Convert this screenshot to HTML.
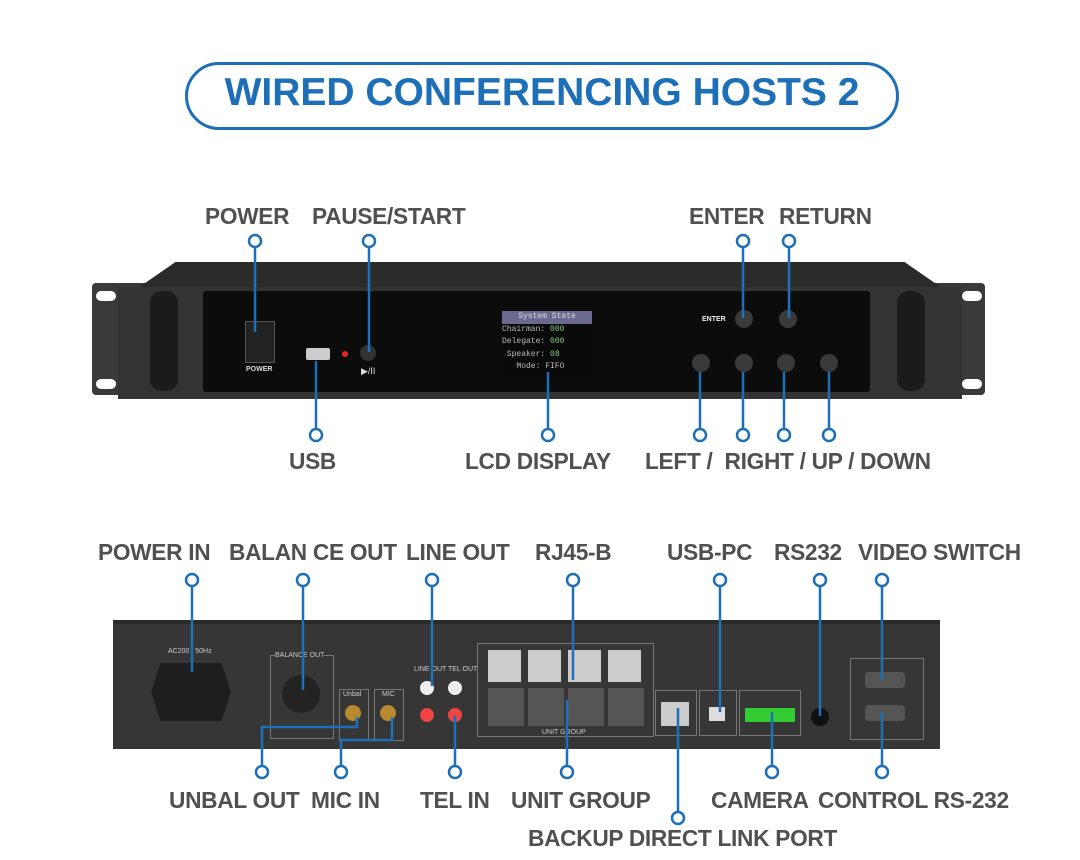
<!DOCTYPE html>
<html><head><meta charset="utf-8"><style>
body{margin:0;width:1080px;height:860px;background:#fff;position:relative;overflow:hidden;font-family:"Liberation Sans",sans-serif}
.a{position:absolute}
.lbl{position:absolute;font-size:22.7px;color:#505050;font-weight:bold;white-space:nowrap;letter-spacing:-0.3px}
.t{position:absolute;font-size:7px;color:#ccc;white-space:nowrap}
</style></head><body>
<div class="a" style="left:185px;top:62px;width:708px;height:62px;border:3px solid #1d6fb8;border-radius:34px"></div>
<div class="a" style="left:185px;top:71px;width:714px;text-align:center;font-size:39px;font-weight:900;color:#1d6fb8;letter-spacing:0px">WIRED CONFERENCING HOSTS 2</div>

<!-- front unit -->
<div class="a" style="left:92px;top:283px;width:893px;height:112px;background:#3a3a3a;border-radius:4px"></div>
<div class="a" style="left:135px;top:262px;width:810px;height:28px;background:#2b2b2b;clip-path:polygon(5% 0,95% 0,100% 100%,0 100%)"></div>
<div class="a" style="left:118px;top:287px;width:844px;height:112px;background:#333"></div>
<div class="a" style="left:203px;top:291px;width:667px;height:101px;background:#0c0c0c;border-radius:3px"></div>
<div class="a" style="left:150px;top:291px;width:28px;height:100px;background:#1b1b1b;border-radius:12px"></div>
<div class="a" style="left:897px;top:291px;width:28px;height:100px;background:#1b1b1b;border-radius:12px"></div>
<div class="a" style="left:96px;top:291px;width:20px;height:10px;background:#fff;border-radius:5px"></div>
<div class="a" style="left:96px;top:379px;width:20px;height:10px;background:#fff;border-radius:5px"></div>
<div class="a" style="left:962px;top:291px;width:20px;height:10px;background:#fff;border-radius:5px"></div>
<div class="a" style="left:962px;top:379px;width:20px;height:10px;background:#fff;border-radius:5px"></div>
<div class="a" style="left:245px;top:321px;width:28px;height:40px;background:#222;border:1px solid #555"></div>
<div class="t" style="left:246px;top:366px;color:#ddd;font-weight:bold">POWER</div>
<div class="a" style="left:306px;top:348px;width:24px;height:12px;background:#ccc;border-radius:2px"></div>
<div class="a" style="left:342px;top:351px;width:6px;height:6px;background:#e22;border-radius:3px"></div>
<div class="a" style="left:360px;top:345px;width:16px;height:16px;background:#333;border-radius:50%"></div>
<div class="t" style="left:361px;top:366px;color:#ddd;font-size:9px">▶/II</div>
<div class="a" style="left:502px;top:311px;width:90px;height:67px;background:#0a0a0a;font-family:'Liberation Mono',monospace;font-size:8px;color:#bbb;line-height:12.5px">
<div style="background:#6a6a90;text-align:center;color:#ddd">System State</div>
<div>Chairman: <span style="color:#8c8">000</span></div><div>Delegate: <span style="color:#8c8">000</span></div><div>&nbsp;Speaker: <span style="color:#8c8">08</span></div><div>&nbsp;&nbsp;&nbsp;Mode: FIFO</div></div>
<div class="t" style="left:702px;top:316px;color:#eee;font-weight:bold">ENTER</div>
<div class="a" style="left:735px;top:310px;width:18px;height:18px;background:#3a3a3a;border-radius:50%"></div>
<div class="a" style="left:779px;top:310px;width:18px;height:18px;background:#3a3a3a;border-radius:50%"></div>
<div class="a" style="left:692px;top:354px;width:18px;height:18px;background:#3a3a3a;border-radius:50%"></div>
<div class="a" style="left:735px;top:354px;width:18px;height:18px;background:#3a3a3a;border-radius:50%"></div>
<div class="a" style="left:777px;top:354px;width:18px;height:18px;background:#3a3a3a;border-radius:50%"></div>
<div class="a" style="left:820px;top:354px;width:18px;height:18px;background:#3a3a3a;border-radius:50%"></div>

<!-- rear unit -->
<div class="a" style="left:113px;top:620px;width:827px;height:125px;background:#363636;border-top:4px solid #2a2a2a"></div>
<div class="a" style="left:151px;top:663px;width:80px;height:58px;background:#1e1e1e;clip-path:polygon(12% 0,88% 0,100% 50%,88% 100%,12% 100%,0 50%)"></div>
<div class="t" style="left:168px;top:648px">AC200 / 50Hz</div>
<div class="a" style="left:270px;top:655px;width:62px;height:82px;border:1px solid #777"></div>
<div class="t" style="left:275px;top:652px;background:#363636">BALANCE OUT</div>
<div class="a" style="left:282px;top:675px;width:38px;height:38px;background:#222;border-radius:50%"></div>
<div class="a" style="left:339px;top:689px;width:28px;height:50px;border:1px solid #777"></div>
<div class="a" style="left:374px;top:689px;width:28px;height:50px;border:1px solid #777"></div>
<div class="a" style="left:345px;top:705px;width:16px;height:16px;background:#b8892e;border-radius:50%"></div>
<div class="a" style="left:380px;top:705px;width:16px;height:16px;background:#b8892e;border-radius:50%"></div>
<div class="t" style="left:343px;top:691px">Unbal</div><div class="t" style="left:382px;top:691px">MIC</div>
<div class="a" style="left:420px;top:681px;width:14px;height:14px;background:#eee;border-radius:50%"></div>
<div class="a" style="left:448px;top:681px;width:14px;height:14px;background:#eee;border-radius:50%"></div>
<div class="a" style="left:420px;top:708px;width:14px;height:14px;background:#e44;border-radius:50%"></div>
<div class="a" style="left:448px;top:708px;width:14px;height:14px;background:#e44;border-radius:50%"></div>
<div class="t" style="left:414px;top:666px">LINE OUT TEL OUT</div>
<div class="a" style="left:477px;top:643px;width:175px;height:92px;border:1px solid #777"></div>
<div class="a" style="left:488px;top:650px;width:33px;height:32px;background:#ccc"></div>
<div class="a" style="left:528px;top:650px;width:33px;height:32px;background:#ccc"></div>
<div class="a" style="left:568px;top:650px;width:33px;height:32px;background:#ccc"></div>
<div class="a" style="left:608px;top:650px;width:33px;height:32px;background:#ccc"></div>
<div class="a" style="left:488px;top:688px;width:36px;height:38px;background:#555"></div>
<div class="a" style="left:528px;top:688px;width:36px;height:38px;background:#555"></div>
<div class="a" style="left:568px;top:688px;width:36px;height:38px;background:#555"></div>
<div class="a" style="left:608px;top:688px;width:36px;height:38px;background:#555"></div>
<div class="t" style="left:542px;top:729px">UNIT GROUP</div>
<div class="a" style="left:655px;top:690px;width:40px;height:44px;border:1px solid #777"></div>
<div class="a" style="left:661px;top:702px;width:28px;height:24px;background:#ccc"></div>
<div class="a" style="left:699px;top:690px;width:36px;height:44px;border:1px solid #777"></div>
<div class="a" style="left:709px;top:707px;width:16px;height:14px;background:#ddd"></div>
<div class="a" style="left:739px;top:690px;width:60px;height:44px;border:1px solid #777"></div>
<div class="a" style="left:745px;top:708px;width:50px;height:14px;background:#3c3"></div>
<div class="a" style="left:811px;top:708px;width:18px;height:18px;background:#111;border-radius:50%"></div>
<div class="a" style="left:850px;top:658px;width:72px;height:80px;border:1px solid #777"></div>
<div class="a" style="left:865px;top:672px;width:40px;height:16px;background:#555;border-radius:4px"></div>
<div class="a" style="left:865px;top:705px;width:40px;height:16px;background:#555;border-radius:4px"></div>

<svg class="a" style="left:0;top:0" width="1080" height="860">
<g stroke="#1d6fb8" stroke-width="2.5" fill="#fff">
<path d="M255 247V332M369 247V352M743 247V318M789 247V318M316 361V429M548 372V429M700 372V429M743 372V429M784 372V429M829 372V429" fill="none"/>
<path d="M192 586V672M303 586V690M432 586V686M573 586V680M720 586V712M820 586V716M882 586V680M262 766V727H357V717M341 766V740H392V717M455 716V766M567 700V766M772 712V766M882 712V766M678 708V812" fill="none"/>
<circle cx="255" cy="241" r="6"/><circle cx="369" cy="241" r="6"/><circle cx="743" cy="241" r="6"/><circle cx="789" cy="241" r="6"/>
<circle cx="316" cy="435" r="6"/><circle cx="548" cy="435" r="6"/><circle cx="700" cy="435" r="6"/><circle cx="743" cy="435" r="6"/><circle cx="784" cy="435" r="6"/><circle cx="829" cy="435" r="6"/>
<circle cx="192" cy="580" r="6"/><circle cx="303" cy="580" r="6"/><circle cx="432" cy="580" r="6"/><circle cx="573" cy="580" r="6"/><circle cx="720" cy="580" r="6"/><circle cx="820" cy="580" r="6"/><circle cx="882" cy="580" r="6"/>
<circle cx="262" cy="772" r="6"/><circle cx="341" cy="772" r="6"/><circle cx="455" cy="772" r="6"/><circle cx="567" cy="772" r="6"/><circle cx="772" cy="772" r="6"/><circle cx="882" cy="772" r="6"/><circle cx="678" cy="818" r="6"/>
</g></svg>

<div class="lbl" style="left:205px;top:203px">POWER</div>
<div class="lbl" style="left:312px;top:203px">PAUSE/START</div>
<div class="lbl" style="left:689px;top:203px">ENTER</div>
<div class="lbl" style="left:779px;top:203px">RETURN</div>
<div class="lbl" style="left:289px;top:448px">USB</div>
<div class="lbl" style="left:465px;top:448px">LCD DISPLAY</div>
<div class="lbl" style="left:645px;top:448px">LEFT / &nbsp;RIGHT / UP / DOWN</div>
<div class="lbl" style="left:98px;top:539px">POWER IN</div>
<div class="lbl" style="left:229px;top:539px">BALAN CE OUT</div>
<div class="lbl" style="left:406px;top:539px">LINE OUT</div>
<div class="lbl" style="left:535px;top:539px">RJ45-B</div>
<div class="lbl" style="left:667px;top:539px">USB-PC</div>
<div class="lbl" style="left:774px;top:539px">RS232</div>
<div class="lbl" style="left:858px;top:539px">VIDEO SWITCH</div>
<div class="lbl" style="left:169px;top:787px">UNBAL OUT</div>
<div class="lbl" style="left:311px;top:787px">MIC IN</div>
<div class="lbl" style="left:420px;top:787px">TEL IN</div>
<div class="lbl" style="left:511px;top:787px">UNIT GROUP</div>
<div class="lbl" style="left:711px;top:787px">CAMERA</div>
<div class="lbl" style="left:818px;top:787px">CONTROL RS-232</div>
<div class="lbl" style="left:528px;top:825px">BACKUP DIRECT LINK PORT</div>
</body></html>
